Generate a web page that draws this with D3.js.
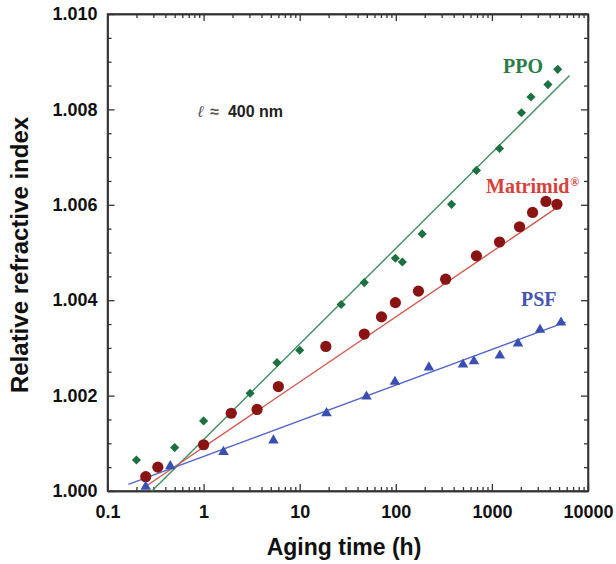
<!DOCTYPE html>
<html lang="en">
<head>
<meta charset="utf-8">
<title>Refractive index aging</title>
<script src="https://d3js.org/d3.v7.min.js"></script>
<style>
  body { margin: 0; background: #fff; }
  .tick text { font-family: "Liberation Sans", Arial, sans-serif; font-weight: bold; font-size: 18px; fill: #111; }
  .axis path, .axis line { stroke: #333; stroke-width: 1.3px; }
</style>
</head>
<body>
<script>
// aging time (h) and relative refractive index
var ppoTime = [0.2, 0.5, 1, 2, 3.05, 5.8, 10, 27, 47, 99, 117, 188, 380, 690, 1200, 2030, 2550, 3830, 4840];
var ppoIndex = [1.00065, 1.00091, 1.00147, 1.00163, 1.00205, 1.00269, 1.00295, 1.00391, 1.00437, 1.00488, 1.00480, 1.00539, 1.00601, 1.00672, 1.00718, 1.00793, 1.00826, 1.00852, 1.00884];

var matTime = [0.25, 0.334, 1, 1.94, 3.6, 6.0, 18.7, 47, 71, 99, 172, 330, 690, 1200, 1940, 2650, 3650, 4750];
var matIndex = [1.00030, 1.00050, 1.00097, 1.00163, 1.00171, 1.00219, 1.00303, 1.00329, 1.00365, 1.00395, 1.00419, 1.00444, 1.00493, 1.00522, 1.00554, 1.00584, 1.00607, 1.00601];

var psfTime = [0.25, 0.45, 1.61, 5.33, 19, 49.5, 98, 221, 500, 650, 1210, 1870, 3170, 5240];
var psfIndex = [1.00007, 1.00050, 1.00080, 1.00104, 1.00161, 1.00196, 1.00227, 1.00257, 1.00263, 1.00270, 1.00282, 1.00307, 1.00336, 1.00351];

// straight fit lines (start / end)
var fitX0 = [0.29, 0.26, 0.165];
var fitY0 = [1.00000, 1.00012, 1.00014];
var fitX1 = [6430, 4750, 5850];
var fitY1 = [1.00871, 1.00594, 1.00354];

var seriesNames = ["PPO", "Matrimid", "PSF"];
var xTickLabels = [0.1, 1, 10, 100, 1000, 10000];
var yTickLabels = [1.000, 1.002, 1.004, 1.006, 1.008, 1.010];

var w = 616, h = 564;
var pLeft = 107.5, pRight = 588, pTop = 14, pBottom = 491;

var svg = d3.select("body").append("svg")
  .attr("width", w).attr("height", h);

var x = d3.scaleLog().domain([0.1, 10000]).range([pLeft, pRight]);
var y = d3.scaleLinear().domain([1.000, 1.010]).range([pBottom, pTop]);

var minorX = [];
for (var e = -1; e < 4; e++) for (var k = 2; k <= 9; k++) minorX.push(k * Math.pow(10, e));
var minorY = d3.range(0, 21).map(function(i){ return 1 + i * 0.0005; })
  .filter(function(v){ return Math.round((v - 1) * 10000) % 20 !== 0; });

// major axes
svg.append("g").attr("class", "axis").attr("transform", "translate(0," + pBottom + ")")
  .call(d3.axisBottom(x).tickValues(xTickLabels).tickFormat(d3.format("~g")).tickSizeInner(-7).tickSizeOuter(0).tickPadding(14));
svg.append("g").attr("class", "axis").attr("transform", "translate(0," + pTop + ")")
  .call(d3.axisTop(x).tickValues(xTickLabels).tickFormat("").tickSizeInner(-7).tickSizeOuter(0));
svg.append("g").attr("class", "axis").attr("transform", "translate(" + pLeft + ",0)")
  .call(d3.axisLeft(y).tickValues(yTickLabels).tickFormat(d3.format(".3f")).tickSizeInner(-7).tickSizeOuter(0).tickPadding(10));
svg.append("g").attr("class", "axis").attr("transform", "translate(" + pRight + ",0)")
  .call(d3.axisRight(y).tickValues(yTickLabels).tickFormat("").tickSizeInner(-7).tickSizeOuter(0));

// minor ticks
svg.append("g").attr("class", "axis").attr("transform", "translate(0," + pBottom + ")")
  .call(d3.axisBottom(x).tickValues(minorX).tickFormat("").tickSizeInner(-4).tickSizeOuter(0));
svg.append("g").attr("class", "axis").attr("transform", "translate(0," + pTop + ")")
  .call(d3.axisTop(x).tickValues(minorX).tickFormat("").tickSizeInner(-4).tickSizeOuter(0));
svg.append("g").attr("class", "axis").attr("transform", "translate(" + pLeft + ",0)")
  .call(d3.axisLeft(y).tickValues(minorY).tickFormat("").tickSizeInner(-4).tickSizeOuter(0));
svg.append("g").attr("class", "axis").attr("transform", "translate(" + pRight + ",0)")
  .call(d3.axisRight(y).tickValues(minorY).tickFormat("").tickSizeInner(-4).tickSizeOuter(0));

svg.append("rect").attr("x", pLeft).attr("y", pTop)
  .attr("width", pRight - pLeft).attr("height", pBottom - pTop)
  .attr("fill", "none").attr("stroke", "#333").attr("stroke-width", 1.5);

// fit lines
var lineColors = ["#3f9060", "#d25a50", "#5566cc"];
seriesNames.forEach(function(n, i) {
  svg.append("line")
    .attr("x1", x(fitX0[i])).attr("y1", y(fitY0[i]))
    .attr("x2", x(fitX1[i])).attr("y2", y(fitY1[i]))
    .attr("stroke", lineColors[i]).attr("stroke-width", 1.4);
});

// markers
var ppo = ppoTime.map(function(t, i){ return [t, ppoIndex[i]]; });
var mat = matTime.map(function(t, i){ return [t, matIndex[i]]; });
var psf = psfTime.map(function(t, i){ return [t, psfIndex[i]]; });

svg.append("g").selectAll("path").data(ppo).join("path")
  .attr("d", d3.symbol(d3.symbolSquare, 42))
  .attr("transform", function(d){ return "translate(" + x(d[0]) + "," + y(d[1]) + ") rotate(45)"; })
  .attr("fill", "#1d7040");

svg.append("g").selectAll("circle").data(mat).join("circle")
  .attr("cx", function(d){ return x(d[0]); })
  .attr("cy", function(d){ return y(d[1]); })
  .attr("r", 5.6)
  .attr("fill", "#8a1414");

svg.append("g").selectAll("path").data(psf).join("path")
  .attr("d", d3.symbol(d3.symbolTriangle, 48))
  .attr("transform", function(d){ return "translate(" + x(d[0]) + "," + (y(d[1]) - 1) + ")"; })
  .attr("fill", "#3a4fb2");

// series labels
var serif = "'Liberation Serif', 'Times New Roman', serif";
svg.append("text").attr("x", 503).attr("y", 73)
  .attr("font-family", serif).attr("font-weight", "bold").attr("font-size", 20)
  .attr("fill", "#2a7c48").text("PPO");
var mt = svg.append("text").attr("x", 486).attr("y", 193)
  .attr("font-family", serif).attr("font-weight", "bold").attr("font-size", 20)
  .attr("fill", "#d8403a").text("Matrimid");
mt.append("tspan").attr("font-size", 12).attr("dy", -7).attr("dx", 1).text("®");
svg.append("text").attr("x", 521).attr("y", 306)
  .attr("font-family", serif).attr("font-weight", "bold").attr("font-size", 20)
  .attr("fill", "#4654b2").text("PSF");

// wavelength note
var note = svg.append("text").attr("x", 198).attr("y", 117)
  .attr("font-family", "'Liberation Sans', Arial, sans-serif").attr("font-size", 16);
note.append("tspan").attr("font-style", "italic").attr("fill", "#555").text("ℓ");
note.append("tspan").attr("dx", 7).attr("fill", "#555").attr("font-weight", "bold").text("≈");
note.append("tspan").attr("dx", 9).attr("font-weight", "bold").attr("fill", "#222").text("400 nm");

// axis titles
svg.append("text").attr("x", 344).attr("y", 555)
  .attr("text-anchor", "middle")
  .attr("font-family", "'Liberation Sans', Arial, sans-serif").attr("font-weight", "bold").attr("font-size", 23)
  .attr("fill", "#111").text("Aging time (h)");
svg.append("text")
  .attr("transform", "translate(28,255) rotate(-90)")
  .attr("text-anchor", "middle")
  .attr("font-family", "'Liberation Sans', Arial, sans-serif").attr("font-weight", "bold").attr("font-size", 24)
  .attr("fill", "#111").text("Relative refractive index");
</script>
</body>
</html>
